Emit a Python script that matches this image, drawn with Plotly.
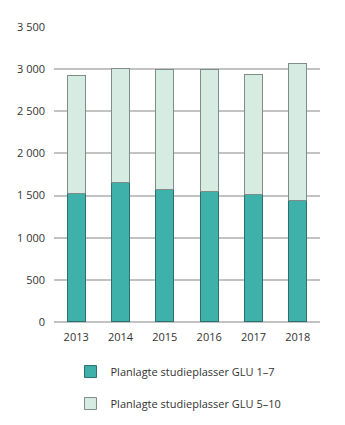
import plotly.graph_objects as go

years = ["2013", "2014", "2015", "2016", "2017", "2018"]
glu_1_7 = [1530, 1660, 1575, 1550, 1510, 1445]
glu_5_10 = [1390, 1345, 1415, 1440, 1430, 1620]
y_ticks = [0, 500, 1000, 1500, 2000, 2500, 3000, 3500]

fig = go.Figure()
fig.add_trace(go.Bar(
    x=years, y=glu_1_7, name="Planlagte studieplasser GLU 1–7",
    marker=dict(color="#3fb1ab", line=dict(color="#2f6f6b", width=1)),
    legendgroup="a",
))
fig.add_trace(go.Bar(
    x=years, y=glu_5_10, name="Planlagte studieplasser GLU 5–10",
    marker=dict(color="#d6ebe2", line=dict(color="#7f8c88", width=1)),
    legendgroup="b",
))

fig.update_layout(
    width=345, height=425,
    barmode="stack", bargap=0.59,
    separators=", ",
    margin=dict(l=54, r=25, t=27, b=5, autoexpand=False),
    plot_bgcolor="white", paper_bgcolor="white",
    font=dict(family="Open Sans", size=11, color="#333333"),
    showlegend=True,
    legend=dict(
        orientation="v", x=0.062, xanchor="left", y=0.005, yanchor="bottom",
        traceorder="grouped", tracegroupgap=13,
        font=dict(size=11, color="#333333"),
    ),
    xaxis=dict(showgrid=False, showline=False, ticks="", ticklabelstandoff=7,
               automargin=False),
    yaxis=dict(
        domain=[0.2494, 1], automargin=False,
        range=[0, 3500], tickvals=y_ticks, separatethousands=True,
        tickformat=",d", showgrid=True, gridcolor="#c2c2c2", gridwidth=1.5,
        zeroline=True, zerolinecolor="#c2c2c2", zerolinewidth=1.5,
        showline=False, ticks="", ticklabelstandoff=8,
    ),
)

fig.write_html("out.html")
